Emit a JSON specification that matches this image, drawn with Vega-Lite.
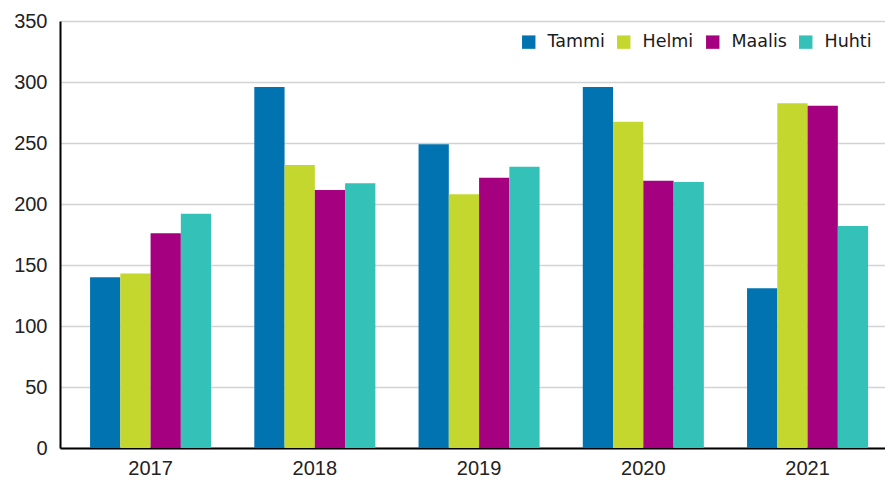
{
  "$schema": "https://vega.github.io/schema/vega-lite/v6.json",
  "width": 825,
  "height": 427,
  "autosize": {"type": "none"},
  "padding": {"left": 60, "top": 21, "right": 0, "bottom": 36},
  "background": "white",
  "data": {"values": [
    {"year": "2017", "month": "Tammi", "value": 140},
    {"year": "2017", "month": "Helmi", "value": 143},
    {"year": "2017", "month": "Maalis", "value": 176},
    {"year": "2017", "month": "Huhti", "value": 192},
    {"year": "2018", "month": "Tammi", "value": 296},
    {"year": "2018", "month": "Helmi", "value": 232},
    {"year": "2018", "month": "Maalis", "value": 211.5},
    {"year": "2018", "month": "Huhti", "value": 217},
    {"year": "2019", "month": "Tammi", "value": 249},
    {"year": "2019", "month": "Helmi", "value": 208},
    {"year": "2019", "month": "Maalis", "value": 221.5},
    {"year": "2019", "month": "Huhti", "value": 230.5},
    {"year": "2020", "month": "Tammi", "value": 296},
    {"year": "2020", "month": "Helmi", "value": 267.5},
    {"year": "2020", "month": "Maalis", "value": 219},
    {"year": "2020", "month": "Huhti", "value": 218},
    {"year": "2021", "month": "Tammi", "value": 131},
    {"year": "2021", "month": "Helmi", "value": 282.5},
    {"year": "2021", "month": "Maalis", "value": 280.5},
    {"year": "2021", "month": "Huhti", "value": 182}
  ]},
  "mark": {"type": "bar"},
  "encoding": {
    "x": {
      "field": "year", "type": "nominal", "title": null,
      "scale": {"paddingInner": 0.263, "paddingOuter": 0.143, "align": 0.64},
      "axis": {"labelAngle": 0, "labelFont": "Liberation Sans", "labelFontSize": 20, "labelColor": "#222222", "labelPadding": 10, "ticks": false, "domainColor": "#000000", "domainWidth": 2, "grid": false}
    },
    "xOffset": {"field": "month", "type": "nominal", "sort": ["Tammi", "Helmi", "Maalis", "Huhti"], "scale": {"paddingInner": 0, "paddingOuter": 0}},
    "y": {
      "field": "value", "type": "quantitative", "title": null,
      "scale": {"domain": [0, 350], "nice": false},
      "axis": {"values": [0, 50, 100, 150, 200, 250, 300, 350], "labelFont": "Liberation Sans", "labelFontSize": 20, "labelColor": "#222222", "labelPadding": 13, "ticks": false, "domainColor": "#000000", "domainWidth": 2, "gridColor": "#d3d3d3", "gridWidth": 1.5}
    },
    "color": {
      "field": "month", "type": "nominal", "title": null,
      "sort": ["Tammi", "Helmi", "Maalis", "Huhti"],
      "scale": {"domain": ["Tammi", "Helmi", "Maalis", "Huhti"], "range": ["#0073b0", "#c3d72f", "#a5007f", "#33c1b8"]},
      "legend": {"orient": "none", "legendX": 460, "legendY": 12, "direction": "horizontal", "symbolType": "square", "symbolSize": 180, "symbolStrokeWidth": 0, "labelFont": "DejaVu Sans", "labelFontSize": 17.5, "labelColor": "#1a1a1a", "labelOffset": 10, "columnPadding": 10, "labelLimit": 200}
    }
  },
  "config": {"view": {"stroke": null}}
}
